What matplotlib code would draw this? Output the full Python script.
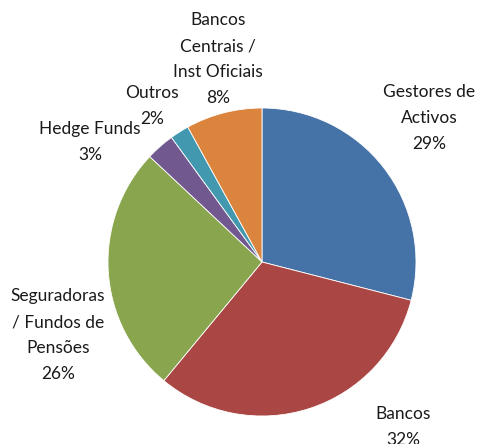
import matplotlib
matplotlib.use("Agg")
import matplotlib.pyplot as plt

categories = ["Gestores de\nActivos", "Bancos", "Seguradoras\n/ Fundos de\nPensões",
              "Hedge Funds", "Outros", "Bancos\nCentrais /\nInst Oficiais"]
values = [29, 32, 26, 3, 2, 8]
colors = ["#4572A7", "#AA4643", "#89A54E", "#71588F", "#4198AF", "#DB843D"]

# label centers in pixel coordinates (top-origin)
label_pos = [(429, 118), (403, 427), (58, 335), (90, 142), (152, 106), (218, 59)]

W, H = 480, 444
fig = plt.figure(figsize=(W / 100, H / 100), dpi=100)
ax = fig.add_axes([0, 0, 1, 1])

cx, cy, r = 262, H - 262, 154
ax.pie(values, colors=colors, startangle=90, counterclock=False,
       center=(cx, cy), radius=r, frame=True,
       wedgeprops=dict(edgecolor="white", linewidth=0.6))
ax.set_xlim(0, W)
ax.set_ylim(0, H)
ax.set_aspect("equal")
ax.axis("off")

for cat, v, (x, y) in zip(categories, values, label_pos):
    ax.text(x, H - y, f"{cat}\n{v}%", ha="center", va="center",
            fontsize=12.5, family=["Lato", "DejaVu Sans"], color="#1a1a1a",
            linespacing=1.75)

fig.savefig("out.png", dpi=100)
